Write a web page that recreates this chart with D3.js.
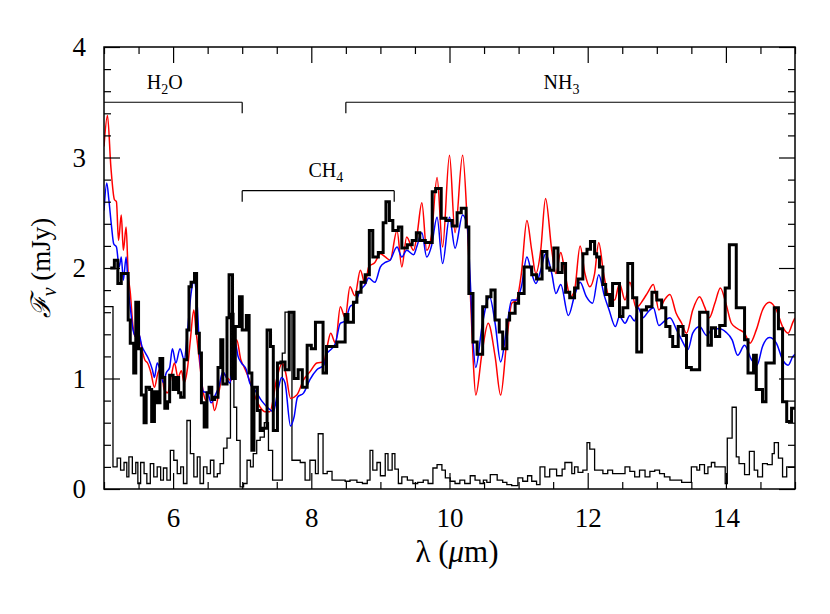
<!DOCTYPE html>
<html><head><meta charset="utf-8">
<script src="https://cdn.jsdelivr.net/npm/d3@7"></script>
<style>body{margin:0;background:#fff}svg{display:block}</style>
</head><body><svg id="c" width="830" height="614"></svg>
<script>
// ---- data: observed spectrum (bin left edges, flux in mJy) ----
const dataEdge = [5.09,5.15,5.20,5.25,5.35,5.38,5.43,5.46,5.50,5.54,5.58,5.61,5.66,5.69,5.73,5.77,5.81,5.85,5.88,5.92,5.95,6.00,6.04,6.08,6.11,6.16,6.20,6.23,6.26,6.31,6.34,6.38,6.41,6.45,6.49,6.52,6.56,6.60,6.65,6.69,6.72,6.78,6.81,6.86,6.90,6.96,7.00,7.06,7.10,7.14,7.17,7.22,7.26,7.30,7.36,7.41,7.45,7.51,7.56,7.62,7.68,7.75,7.81,7.87,7.94,8.00,8.06,8.17,8.22,8.37,8.49,8.53,8.61,8.66,8.72,8.78,8.84,8.89,8.97,9.04,9.08,9.13,9.18,9.26,9.31,9.39,9.46,9.52,9.57,9.65,9.75,9.80,9.88,9.95,10.04,10.11,10.17,10.24,10.28,10.34,10.40,10.48,10.54,10.60,10.66,10.72,10.77,10.83,10.87,10.95,11.00,11.08,11.19,11.26,11.34,11.41,11.45,11.51,11.57,11.63,11.68,11.74,11.81,11.86,11.93,11.99,12.04,12.10,12.13,12.17,12.22,12.26,12.32,12.36,12.46,12.51,12.58,12.65,12.71,12.78,12.85,12.93,13.00,13.07,13.13,13.19,13.23,13.31,13.38,13.43,13.50,13.62,13.74,13.79,13.85,13.91,13.99,14.05,14.15,14.27,14.32,14.40,14.44,14.53,14.58,14.70,14.76,14.82,14.88,14.95,15.0];
const dataFlux = [2.00,2.07,1.86,1.95,1.53,1.32,1.05,1.69,1.27,0.85,0.60,0.92,0.90,0.61,0.88,0.78,1.18,1.01,0.73,0.79,1.03,0.90,1.01,0.87,0.83,1.17,1.44,1.83,1.87,1.95,1.41,1.23,0.78,0.56,0.87,0.92,0.81,0.83,1.10,1.35,0.95,1.55,1.94,1.00,1.47,1.74,1.44,1.57,1.05,0.35,0.92,0.71,0.53,0.55,1.44,1.29,0.53,1.14,1.15,1.08,1.60,1.00,1.08,0.92,1.30,1.27,1.51,1.05,1.29,1.33,1.58,1.51,1.69,1.78,1.87,1.94,2.34,2.10,2.14,2.41,2.60,2.43,2.34,2.37,2.18,2.21,2.25,2.32,2.25,2.23,2.69,2.72,2.45,2.43,2.38,2.50,2.54,2.37,1.77,1.33,1.22,1.65,1.74,1.80,1.53,1.42,1.27,1.53,1.59,1.68,1.77,2.01,1.94,1.90,2.15,2.00,1.98,2.18,1.96,2.04,1.78,1.73,1.82,1.90,2.13,2.17,2.24,2.13,2.10,2.01,1.85,1.76,1.66,1.86,1.56,1.64,2.04,1.73,1.24,1.62,1.65,1.78,1.71,1.64,1.47,1.38,1.29,1.47,1.39,1.10,1.08,1.60,1.30,1.46,1.38,1.48,1.82,2.21,1.64,1.35,1.05,1.21,0.90,0.79,1.14,1.64,1.45,0.79,0.61,0.73,0.73];

// ---- data: noise spectrum (bin left edges, mJy) ----
const noiseEdge = [5.0,5.13,5.19,5.24,5.29,5.33,5.36,5.41,5.46,5.49,5.53,5.58,5.62,5.67,5.72,5.77,5.82,5.86,5.91,5.96,6.01,6.06,6.11,6.15,6.20,6.25,6.30,6.35,6.39,6.44,6.49,6.54,6.59,6.64,6.68,6.73,6.78,6.83,6.88,6.92,6.97,7.02,7.07,7.12,7.16,7.21,7.26,7.32,7.38,7.44,7.58,7.62,7.72,7.84,7.91,7.98,8.06,8.10,8.17,8.23,8.30,8.49,8.56,8.66,8.74,8.81,8.85,8.89,8.95,9.00,9.07,9.11,9.17,9.21,9.26,9.31,9.39,9.47,9.54,9.62,9.69,9.76,9.82,9.89,9.94,10.01,10.08,10.15,10.22,10.30,10.37,10.44,10.49,10.54,10.59,10.69,10.77,10.83,10.90,10.99,11.06,11.13,11.19,11.26,11.31,11.38,11.45,11.55,11.63,11.67,11.77,11.81,11.86,11.93,11.99,12.03,12.10,12.22,12.29,12.36,12.46,12.54,12.61,12.68,12.75,12.83,12.90,12.97,13.04,13.11,13.19,13.36,13.50,13.58,13.62,13.69,13.74,13.79,13.84,13.91,13.99,14.02,14.09,14.15,14.19,14.27,14.34,14.41,14.46,14.53,14.60,14.67,14.70,14.76,14.82,14.88,15.0];
const noiseFlux = [1.65,0.20,0.28,0.17,0.24,0.11,0.29,0.14,0.24,0.05,0.24,0.14,0.05,0.23,0.11,0.20,0.08,0.19,0.08,0.35,0.26,0.14,0.20,0.05,0.62,0.32,0.11,0.29,0.05,0.20,0.14,0.26,0.11,0.14,0.23,0.37,0.46,1.59,0.74,0.44,0.02,0.05,0.26,0.20,0.32,0.44,0.47,0.60,0.35,0.08,1.23,1.60,0.26,0.24,0.08,0.26,0.14,0.50,0.14,0.16,0.08,0.07,0.08,0.06,0.05,0.08,0.35,0.17,0.24,0.12,0.32,0.17,0.32,0.18,0.05,0.11,0.08,0.05,0.06,0.08,0.05,0.19,0.22,0.17,0.10,0.07,0.05,0.08,0.05,0.12,0.08,0.05,0.08,0.06,0.13,0.08,0.06,0.04,0.03,0.10,0.07,0.12,0.07,0.04,0.20,0.11,0.18,0.12,0.18,0.24,0.14,0.20,0.15,0.17,0.42,0.36,0.17,0.14,0.17,0.14,0.14,0.20,0.16,0.11,0.17,0.11,0.16,0.17,0.14,0.11,0.08,0.06,0.20,0.17,0.22,0.14,0.20,0.24,0.20,0.20,0.05,0.46,0.74,0.29,0.23,0.13,0.34,0.17,0.11,0.23,0.22,0.32,0.42,0.28,0.11,0.20,0.20];

// ---- model 1 (red) ----
const redWave = [5.0,5.05,5.1,5.15,5.18,5.21,5.25,5.28,5.32,5.35,5.38,5.42,5.45,5.49,5.54,5.59,5.63,5.68,5.73,5.78,5.83,5.87,5.92,5.97,6.02,6.07,6.12,6.16,6.21,6.25,6.3,6.33,6.38,6.43,6.48,6.54,6.6,6.67,6.72,6.78,6.84,6.92,6.98,7.03,7.09,7.14,7.19,7.26,7.33,7.4,7.5,7.58,7.63,7.7,7.79,7.89,7.98,8.08,8.18,8.23,8.28,8.35,8.42,8.49,8.56,8.63,8.71,8.78,8.83,8.92,9.0,9.07,9.14,9.24,9.31,9.38,9.48,9.53,9.6,9.67,9.74,9.82,9.9,10.0,10.08,10.19,10.26,10.3,10.34,10.38,10.47,10.56,10.66,10.74,10.83,10.9,10.97,11.04,11.12,11.19,11.25,11.32,11.39,11.48,11.54,11.61,11.68,11.75,11.81,11.89,11.96,12.03,12.1,12.16,12.23,12.31,12.39,12.46,12.54,12.61,12.7,12.8,12.87,12.95,13.03,13.11,13.19,13.28,13.36,13.43,13.52,13.62,13.69,13.76,13.84,13.92,14.0,14.08,14.17,14.27,14.35,14.44,14.53,14.63,14.73,14.82,14.9,14.97,15.0];
const redFlux = [3.10,3.38,2.91,2.62,2.60,2.25,2.48,2.16,2.37,1.95,1.78,1.47,1.38,1.44,1.29,1.17,1.14,1.05,0.92,1.05,1.10,0.90,0.87,1.01,1.14,1.01,1.07,0.96,1.10,1.35,1.62,1.44,1.17,0.90,0.80,0.90,0.71,0.90,1.05,1.01,0.98,1.35,1.17,1.10,1.01,0.92,0.83,0.74,0.70,0.70,1.00,1.14,1.05,0.82,0.85,0.99,1.06,1.14,1.15,1.29,1.41,1.32,1.65,1.55,1.83,1.75,1.98,1.85,2.01,2.05,2.13,2.10,2.07,2.34,2.01,2.28,2.16,2.30,2.59,2.16,2.30,2.82,2.19,3.02,2.32,3.02,2.36,1.80,1.20,0.85,1.23,1.50,1.20,0.85,1.35,1.68,1.71,1.95,2.43,2.16,1.95,2.16,2.63,2.16,1.95,2.14,1.92,1.74,1.80,2.20,1.95,1.83,1.95,2.23,1.95,1.74,1.71,1.86,1.71,1.87,1.64,1.71,1.78,1.85,1.62,1.71,1.76,1.59,1.50,1.41,1.62,1.74,1.65,1.55,1.68,1.82,1.68,1.50,1.45,1.41,1.32,1.44,1.62,1.69,1.62,1.47,1.41,1.51,1.55];

// ---- model 2 (blue) ----
const blueWave = [5.0,5.04,5.07,5.11,5.14,5.18,5.22,5.25,5.28,5.32,5.35,5.39,5.42,5.46,5.5,5.55,5.6,5.65,5.7,5.73,5.77,5.81,5.86,5.9,5.95,5.99,6.04,6.1,6.16,6.21,6.26,6.3,6.35,6.39,6.44,6.5,6.55,6.61,6.66,6.72,6.77,6.82,6.86,6.9,6.94,6.99,7.06,7.11,7.18,7.28,7.38,7.45,7.52,7.57,7.62,7.7,7.75,7.8,7.89,7.98,8.08,8.18,8.23,8.28,8.35,8.42,8.49,8.56,8.63,8.71,8.78,8.83,8.92,9.0,9.07,9.14,9.24,9.31,9.38,9.48,9.53,9.6,9.67,9.74,9.82,9.9,10.0,10.08,10.19,10.26,10.3,10.34,10.38,10.47,10.58,10.66,10.74,10.83,10.9,10.97,11.04,11.12,11.19,11.25,11.32,11.39,11.48,11.54,11.61,11.72,11.81,11.89,11.98,12.07,12.16,12.24,12.31,12.4,12.46,12.54,12.61,12.68,12.73,12.8,12.87,12.95,13.03,13.11,13.19,13.28,13.36,13.45,13.52,13.62,13.72,13.81,13.91,14.0,14.09,14.17,14.27,14.37,14.45,14.53,14.63,14.73,14.82,14.9,14.97,15.0];
const blueFlux = [2.52,2.77,2.62,2.37,2.22,2.19,2.01,2.10,1.89,2.10,1.83,1.59,1.44,1.38,1.41,1.29,1.23,1.17,1.08,1.01,1.14,1.08,0.96,1.05,1.10,1.27,1.14,1.27,1.17,1.44,1.77,1.89,1.65,1.17,0.88,0.87,0.78,0.85,0.92,1.06,1.01,0.96,1.08,1.32,1.20,1.14,1.08,0.96,0.90,0.80,0.73,0.70,0.90,1.01,0.96,0.57,0.65,0.83,0.87,0.99,1.08,1.12,1.23,1.26,1.32,1.50,1.52,1.65,1.68,1.80,1.85,1.91,1.87,2.01,2.05,2.07,2.19,2.10,2.16,2.12,2.20,2.32,2.10,2.20,2.46,2.04,2.46,2.18,2.48,2.36,1.89,1.35,1.10,1.47,1.74,1.50,1.15,1.47,1.71,1.71,1.83,2.10,1.95,1.86,1.98,2.13,1.95,1.77,1.85,1.57,1.75,1.87,1.74,1.68,1.94,1.75,1.62,1.47,1.56,1.50,1.57,1.52,1.64,1.55,1.60,1.64,1.48,1.52,1.55,1.45,1.35,1.26,1.41,1.47,1.39,1.45,1.45,1.42,1.35,1.21,1.30,1.17,1.12,1.29,1.37,1.32,1.17,1.12,1.20,1.22];

// ---- axes / annotation text ----
const xMajorTicks = [6, 8, 10, 12, 14];
const yMajorTicks = [0, 1, 2, 3, 4];
const bands = [
  {label: "H", sub: "2", tail: "O", from: 5.0, to: 7.0, level: 3.5, drop: 3.4, textX: 5.88, textY: 3.62, leftTick: false, rightTick: true},
  {label: "CH", sub: "4", tail: "", from: 7.0, to: 9.2, level: 2.7, drop: 2.6, textX: 8.21, textY: 2.82, leftTick: true, rightTick: true},
  {label: "NH", sub: "3", tail: "", from: 8.5, to: 15.0, level: 3.5, drop: 3.4, textX: 11.62, textY: 3.62, leftTick: true, rightTick: false}
];

const M = {l: 104, r: 795, t: 47, b: 489};
const FONT = "'Liberation Serif','DejaVu Serif',serif";
const svg = d3.select("#c");
const x = d3.scaleLinear().domain([5, 15]).range([M.l, M.r]);
const y = d3.scaleLinear().domain([0, 4]).range([M.b, M.t]);

svg.append("defs").append("clipPath").attr("id", "clip")
  .append("rect").attr("x", M.l).attr("y", M.t).attr("width", M.r - M.l).attr("height", M.b - M.t);

const plot = svg.append("g").attr("clip-path", "url(#clip)");

const pairs = (a, b) => a.map((v, i) => [v, b[i]]);
const stepLine = d3.line().x(d => x(d[0])).y(d => y(d[1])).curve(d3.curveStepAfter);
const smoothLine = d3.line().x(d => x(d[0])).y(d => y(d[1])).curve(d3.curveMonotoneX);

plot.append("path").datum(pairs(noiseEdge, noiseFlux))
  .attr("d", stepLine).attr("fill", "none").attr("stroke", "#000").attr("stroke-width", 1.3);
plot.append("path").datum(pairs(redWave, redFlux))
  .attr("d", smoothLine).attr("fill", "none").attr("stroke", "#ff0000").attr("stroke-width", 1.5);
plot.append("path").datum(pairs(blueWave, blueFlux))
  .attr("d", smoothLine).attr("fill", "none").attr("stroke", "#0000ff").attr("stroke-width", 1.5);
plot.append("path").datum(pairs(dataEdge, dataFlux))
  .attr("d", stepLine).attr("fill", "none").attr("stroke", "#000").attr("stroke-width", 3).attr("stroke-linejoin", "miter");

// axes
const xMinor = d3.range(5, 15.001, 0.5).filter(v => !xMajorTicks.includes(v));
const yMinor = d3.range(0, 4.001, 0.2).map(v => +v.toFixed(1)).filter(v => !yMajorTicks.includes(v));
const MAJ = 16, MIN = 7;

function addAxis(gen, tr, vals, size, labels) {
  const g = svg.append("g").attr("transform", tr)
    .call(gen.tickValues(vals).tickSize(-size).tickSizeOuter(0).tickFormat(labels ? d3.format("d") : ""));
  g.select(".domain").remove();
  g.selectAll(".tick line").attr("stroke", "#000").attr("stroke-width", 1.2);
  return g;
}
const xb = addAxis(d3.axisBottom(x).tickPadding(19), `translate(0,${M.b})`, xMajorTicks, MAJ, true);
addAxis(d3.axisBottom(x), `translate(0,${M.b})`, xMinor, MIN, false);
addAxis(d3.axisTop(x), `translate(0,${M.t})`, xMajorTicks, MAJ, false);
addAxis(d3.axisTop(x), `translate(0,${M.t})`, xMinor, MIN, false);
const yl = addAxis(d3.axisLeft(y).tickPadding(18), `translate(${M.l},0)`, yMajorTicks, MAJ, true);
addAxis(d3.axisLeft(y), `translate(${M.l},0)`, yMinor, MIN, false);
addAxis(d3.axisRight(y), `translate(${M.r},0)`, yMajorTicks, MAJ, false);
addAxis(d3.axisRight(y), `translate(${M.r},0)`, yMinor, MIN, false);
[xb, yl].forEach(g => g.selectAll(".tick text").attr("font-family", FONT).attr("font-size", 27).attr("fill", "#000"));

svg.append("rect").attr("x", M.l).attr("y", M.t).attr("width", M.r - M.l).attr("height", M.b - M.t)
  .attr("fill", "none").attr("stroke", "#000").attr("stroke-width", 1.5);

// band annotations
bands.forEach(b => {
  const g = svg.append("g").attr("stroke", "#000").attr("stroke-width", 1.2).attr("fill", "none");
  g.append("line").attr("x1", x(b.from)).attr("x2", x(b.to)).attr("y1", y(b.level)).attr("y2", y(b.level));
  if (b.leftTick) g.append("line").attr("x1", x(b.from)).attr("x2", x(b.from)).attr("y1", y(b.level)).attr("y2", y(b.drop));
  if (b.rightTick) g.append("line").attr("x1", x(b.to)).attr("x2", x(b.to)).attr("y1", y(b.level)).attr("y2", y(b.drop));
  const t = svg.append("text").attr("x", x(b.textX)).attr("y", y(b.textY)).attr("text-anchor", "middle")
    .attr("font-family", FONT).attr("font-size", 20).attr("fill", "#000");
  t.append("tspan").text(b.label);
  t.append("tspan").attr("dy", 5).attr("font-size", 14).text(b.sub);
  if (b.tail) t.append("tspan").attr("dy", -5).text(b.tail);
});

// axis titles
const xt = svg.append("text").attr("x", 457).attr("y", 562).attr("text-anchor", "middle")
  .attr("font-family", FONT).attr("font-size", 31).attr("fill", "#000");
xt.append("tspan").text("λ (");
xt.append("tspan").attr("font-style", "italic").text("μ");
xt.append("tspan").text("m)");

const yt = svg.append("text").attr("transform", `translate(50,${(M.t + M.b) / 2}) rotate(-90)`)
  .attr("text-anchor", "middle").attr("font-family", FONT).attr("font-size", 27).attr("fill", "#000");
yt.append("tspan").attr("font-style", "italic").text("ℱ");
yt.append("tspan").attr("dy", 6).attr("font-size", 20).attr("font-style", "italic").text("ν");
yt.append("tspan").attr("dy", -6).text(" (mJy)");
</script></body></html>
